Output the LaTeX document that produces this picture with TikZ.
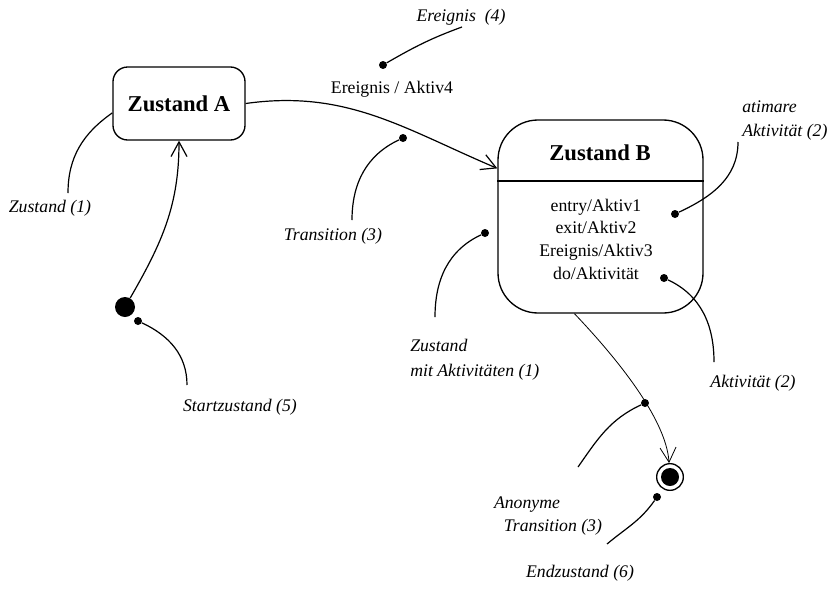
\documentclass[tikz,border=0pt]{standalone}
\usepackage{fontspec}
\setmainfont{Liberation Serif}
\usetikzlibrary{arrows.meta}
\begin{document}
\begin{tikzpicture}[x=0.75pt,y=0.75pt,
  state/.style={draw, line width=1pt, rounded corners=#1, inner sep=0pt},
  titlefont/.style={font=\fontsize{17}{20}\selectfont\bfseries},
  plain/.style={font=\fontsize{13.3}{17}\selectfont, inner sep=0pt},
  note/.style={font=\fontsize{13.3}{18.5}\selectfont\itshape, inner sep=0pt},
  pin/.style={circle, fill, inner sep=0pt, minimum size=6pt},
  leader/.style={line width=0.9pt},
  trans/.style={line width=0.9pt, -{Straight Barb[length=11pt,width=12pt]}},
]
\useasboundingbox (0,0) rectangle (831,-607);

% states
\node[state=11pt, minimum width=99pt, minimum height=54.75pt, titlefont] (A) at (179,-103.5) {Zustand A};
\node[state=30pt, minimum width=153.75pt, minimum height=144.75pt] (B) at (600.5,-216.5) {};
\coordinate (divy) at (0,-181);
\draw[line width=1pt] (B.west |- divy) -- (B.east |- divy);
\node[titlefont, inner sep=0pt] (Btitle) at (600,-153) {Zustand B};
\node[plain, align=center] (Bbody) at (596,-239) {entry/Aktiv1\\exit/Aktiv2\\Ereignis/Aktiv3\\do/Aktivität};

% pseudo states
\node[circle, fill, minimum size=15pt, inner sep=0pt] (start) at (125,-307) {};
\node[circle, draw, line width=1pt, minimum size=20pt, inner sep=0pt] (end) at (670,-477) {};
\node[circle, fill, minimum size=13.5pt, inner sep=0pt] (endcore) at (end) {};

% transitions
\node[plain] (ev) at (392,-89) {Ereignis / Aktiv4};
\draw[trans] (start) to[out=60,in=-90] (A.south);
\draw[trans] (A.east) to[out=8,in=157] (B.155);
\draw[trans, line width=0.6pt] (B.255) .. controls +(38,-40) and +(-4,60) .. (end);

% annotation pins
\node[pin] (pE) at (383,-65) {};
\node[pin] (pT) at (403,-138) {};
\node[pin] (pS) at (138,-321) {};
\node[pin] (pZ) at (485,-233) {};
\node[pin] (pA) at (675,-214) {};
\node[pin] (pK) at (664,-278) {};
\node[pin] (pN) at (645,-403) {};
\node[pin] (pD) at (657,-497) {};

% leader ends
\coordinate (cE) at (462,-27);
\coordinate (cZ1) at (68,-193);
\coordinate (cT) at (352,-220);
\coordinate (cS) at (187,-385);
\coordinate (cZ) at (435,-317);
\coordinate (cA) at (738,-142);
\coordinate (cK) at (714,-362);
\coordinate (cN) at (578,-467);
\coordinate (cD) at (607,-544);

% leaders
\draw[leader] (pE) to[out=30,in=200] (cE);
\draw[leader] (A.188) to[out=215,in=90] (cZ1);
\draw[leader] (pT) to[out=205,in=90] (cT);
\draw[leader] (pS) to[out=-25,in=90] (cS);
\draw[leader] (pZ) to[out=205,in=90] (cZ);
\draw[leader] (pA) to[out=25,in=-90] (cA);
\draw[leader] (pK) to[out=-25,in=90] (cK);
\draw[leader] (pN) to[out=205,in=55] (cN);
\draw[leader] (pD) to[out=235,in=40] (cD);

% annotation texts
\node[note] (lE) at (461,-17) {Ereignis\ \ (4)};
\node[note] (lZ1) at (50,-208) {Zustand (1)};
\node[note] (lT) at (333,-236) {Transition (3)};
\node[note] (lS) at (240,-407) {Startzustand (5)};
\node[note, anchor=west, align=left] (lZ) at (410,-359.5) {Zustand\\mit Aktivitäten (1)};
\node[note, anchor=west, align=left] (lA) at (742,-120.5) {atimare\\Aktivität (2)};
\node[note] (lK) at (753,-383) {Aktivität (2)};
\node[note] (lN1) at (527,-505) {Anonyme};
\node[note] (lN2) at (553,-527) {Transition (3)};
\node[note] (lD) at (580,-573) {Endzustand (6)};
\end{tikzpicture}
\end{document}
